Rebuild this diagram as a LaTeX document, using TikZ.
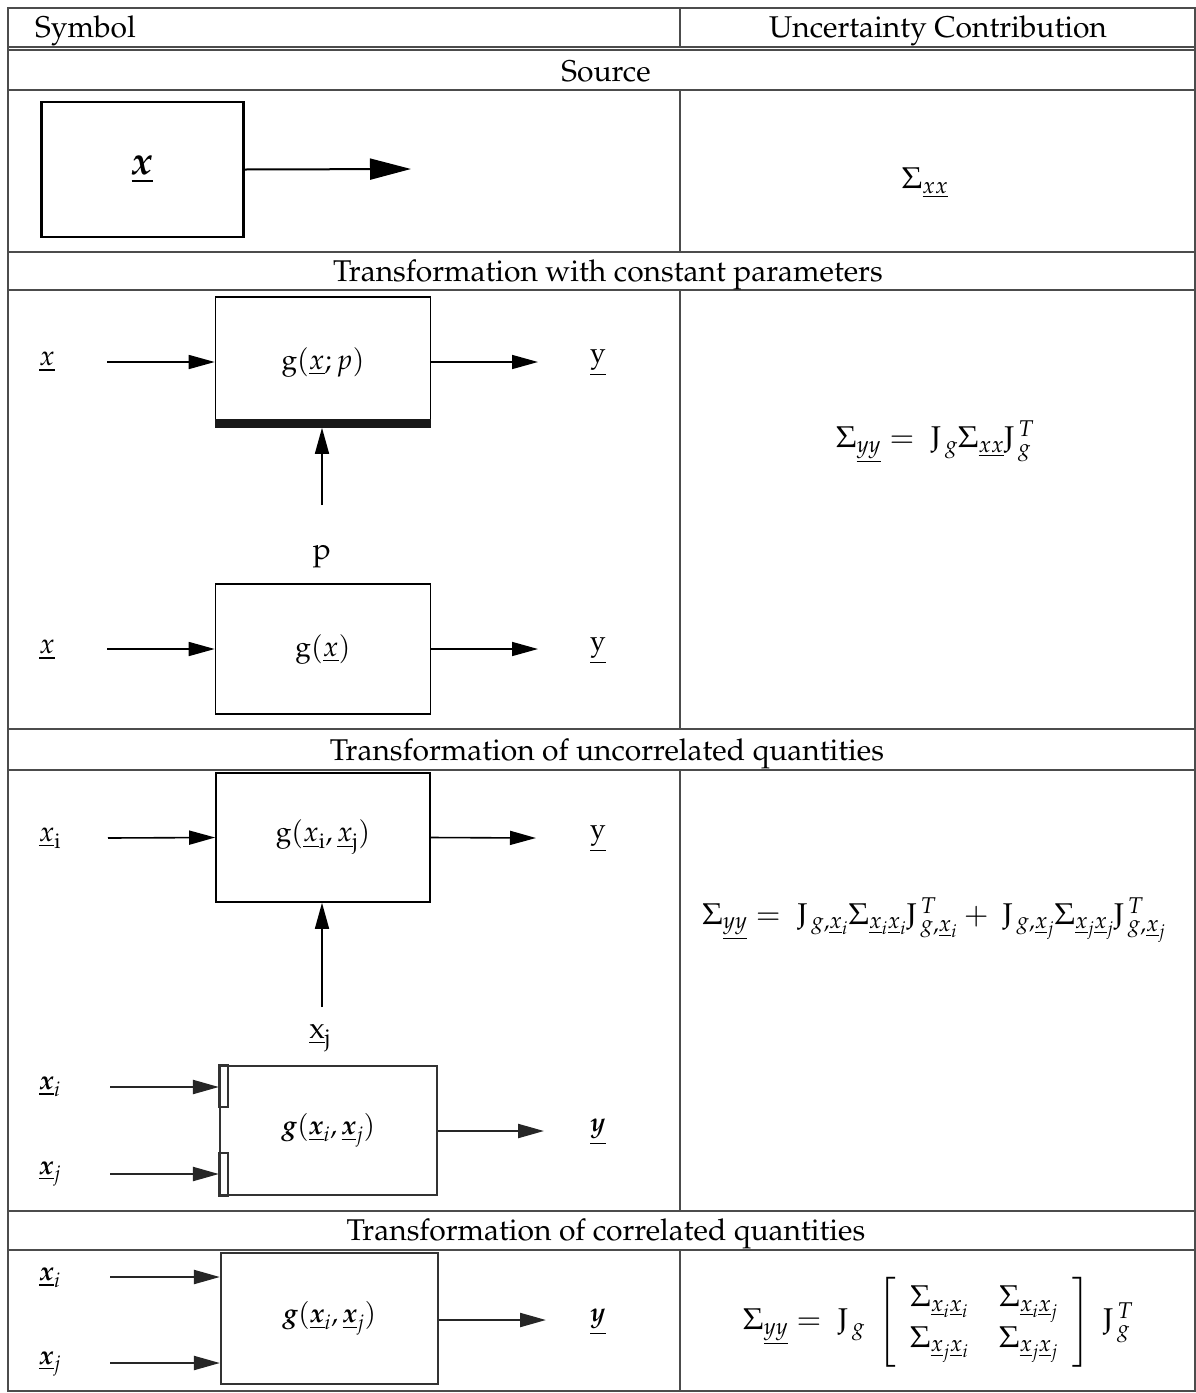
\documentclass[tikz,border=0pt]{standalone}
\usepackage{amsmath}
\usepackage{mathpazo}
\usepackage[T1]{fontenc}
\usepackage{bm}
\usetikzlibrary{arrows.meta}
\newcommand{\ttlsize}{\fontsize{30}{36}\selectfont}
\newcommand{\dlabsize}{\fontsize{28}{34}\selectfont}
\newcommand{\blabsize}{\fontsize{27}{32}\selectfont}
\newcommand{\srcsize}{\fontsize{40}{48}\selectfont}
\tikzset{
  tline/.style={draw=black!70, line width=1.4pt},
  ttl/.style={font=\ttlsize, inner sep=0pt, anchor=base},
  frm/.style={font=\ttlsize, inner sep=0pt},
  dlab/.style={font=\dlabsize, inner sep=0pt},
  blab/.style={font=\blabsize, inner sep=0pt},
  fbox/.style={draw=black, line width=1.6pt, minimum width=215pt, minimum height=130pt, inner sep=0pt, font=\dlabsize},
  gbox/.style={draw=black!80, line width=2.2pt, minimum width=217pt, inner sep=0pt, font=\blabsize},
  arr/.style={line width=1.6pt, -{Triangle[length=26pt,width=14pt]}},
  garr/.style={draw=black!85, line width=2.2pt, -{Triangle[length=26pt,width=14pt]}},
}
\begin{document}
\begin{tikzpicture}[x=1pt,y=-1pt]
\useasboundingbox (0,0) rectangle (1196,1393);
% ---------- table frame ----------
\draw[tline] (8,8) rectangle (1195,1391);
\foreach \yy in {47,50,90,252,290,729,770,1211,1250}
  \draw[tline] (8,\yy) -- (1195,\yy);
\draw[tline] (680,8) -- (680,47);
\draw[tline] (680,90) -- (680,252);
\draw[tline] (680,290) -- (680,729);
\draw[tline] (680,770) -- (680,1211);
\draw[tline] (680,1250) -- (680,1391);
% ---------- headings ----------
\node[ttl, anchor=base west] (hsym) at (35,37) {Symbol};
\node[ttl] (hunc) at (938,37) {Uncertainty Contribution};
\node[ttl] (tsrc) at (606,81) {Source};
\node[ttl] (tcon) at (608,281) {Transformation with constant parameters};
\node[ttl] (tunc) at (607,760) {Transformation of uncorrelated quantities};
\node[ttl] (tcor) at (606,1240) {Transformation of correlated quantities};
% ---------- source ----------
\node[draw=black, line width=2.6pt, minimum width=202pt, minimum height=135pt, inner sep=0pt, font=\srcsize] (src) at (142.5,169.5) {$\underline{\bm{x}}$};
\coordinate (srcend) at (411,169);
\draw[line width=2pt, -{Triangle[length=41pt,width=21pt]}] (src.east) -- (srcend);
\node[frm] (fsrc) at (925,183) {$\Sigma_{\underline{xx}}$};
% ---------- constant parameters ----------
\node[fbox] (gxp) at (323,362) {$\mathrm{g}(\underline{x}; p)$};
\fill[black!90] (gxp.south west) rectangle ([yshift=9pt]gxp.south east);
\node[dlab] (xin1) at (47,362) {$\underline{x}$};
\node[dlab] (yout1) at (598,363) {$\underline{\mathrm{y}}$};
\coordinate (a1) at (107,362);
\coordinate (b1) at (538,362);
\draw[arr] (a1) -- (gxp.west);
\draw[arr] (gxp.east) -- (b1);
\coordinate (pst) at (322,505);
\draw[arr] (pst) -- (pst |- gxp.south);
\node[font=\ttlsize, inner sep=0pt] (plab) at (322,556) {p};
\node[fbox] (gx) at (323,649) {$\mathrm{g}(\underline{x})$};
\node[dlab] (xin2) at (47,650) {$\underline{x}$};
\node[dlab] (yout2) at (598,651) {$\underline{\mathrm{y}}$};
\coordinate (a2) at (107,649);
\coordinate (b2) at (538,649);
\draw[arr] (a2) -- (gx.west);
\draw[arr] (gx.east) -- (b2);
\node[frm] (fcon) at (935,442) {$\Sigma_{\underline{yy}} = \;\mathrm{J}_{\,g}\Sigma_{\underline{xx}}\mathrm{J}_{\,g}^{\,T}$};
% ---------- uncorrelated ----------
\node[fbox, minimum width=214pt, minimum height=129pt] (gij) at (323,837.5) {$\mathrm{g}(\underline{x}_{\mathrm{i}}, \underline{x}_{\mathrm{j}})$};
\node[dlab] (xin3) at (50,838) {$\underline{x}_{\mathrm{i}}$};
\node[dlab] (yout3) at (598,839) {$\underline{\mathrm{y}}$};
\coordinate (a3) at (108,838);
\coordinate (b3) at (536,838);
\draw[arr] (a3) -- (gij.west);
\draw[arr] (gij.east) -- (b3);
\coordinate (xjst) at (322,1007);
\draw[arr] (xjst) -- (xjst |- gij.south);
\node[font=\ttlsize, inner sep=0pt] (xjlab) at (320,1038) {$\underline{\mathrm{x}}_{\mathrm{j}}$};
% lower figure
\node[gbox, minimum height=129pt] (gb) at (328.5,1130.5) {$\bm{g}(\underline{\bm{x}}_i, \underline{\bm{x}}_j)$};
\draw[draw=black!80, line width=1.8pt] (gb.north west) rectangle ++(9,42);
\draw[draw=black!80, line width=1.8pt] (gb.south west) rectangle ++(9,-43);
\node[blab] (xib) at (50,1087) {$\underline{\bm{x}}_i$};
\node[blab] (xjb) at (50,1174) {$\underline{\bm{x}}_j$};
\node[blab] (yb) at (598,1132) {$\underline{\bm{y}}$};
\coordinate (a4) at (110,1087);
\coordinate (a5) at (110,1174);
\coordinate (b4) at (544,1131);
\draw[garr] (a4) -- (a4 -| gb.west);
\draw[garr] (a5) -- (a5 -| gb.west);
\draw[garr] (b4 -| gb.east) -- (b4);
\node[frm] (func) at (934,920) {$\Sigma_{\underline{yy}} = \;\mathrm{J}_{\,g,\underline{x}_i}\Sigma_{\underline{x}_i\underline{x}_i}\mathrm{J}_{\,g,\underline{x}_i}^{\,T} + \;\mathrm{J}_{\,g,\underline{x}_j}\Sigma_{\underline{x}_j\underline{x}_j}\mathrm{J}_{\,g,\underline{x}_j}^{\,T}$};
% ---------- correlated ----------
\node[gbox, minimum height=131pt] (gc) at (329.5,1318.5) {$\bm{g}(\underline{\bm{x}}_i, \underline{\bm{x}}_j)$};
\node[blab] (xic) at (50,1278) {$\underline{\bm{x}}_i$};
\node[blab] (xjc) at (50,1364) {$\underline{\bm{x}}_j$};
\node[blab] (yc) at (598,1322) {$\underline{\bm{y}}$};
\coordinate (a6) at (110,1277);
\coordinate (a7) at (110,1363);
\coordinate (b6) at (546,1320);
\draw[garr] (a6) -- (a6 -| gc.west);
\draw[garr] (a7) -- (a7 -| gc.west);
\draw[garr] (b6 -| gc.east) -- (b6);
\node[frm] (fcor) at (938,1322) {$\Sigma_{\underline{yy}} = \;\mathrm{J}_{\,g}\;\left[\;\begin{array}{c@{\hspace{30pt}}c}\Sigma_{\underline{x}_i\underline{x}_i} & \Sigma_{\underline{x}_i\underline{x}_j}\\ \Sigma_{\underline{x}_j\underline{x}_i} & \Sigma_{\underline{x}_j\underline{x}_j}\end{array}\;\right]\;\mathrm{J}_{\,g}^{\,T}$};
\end{tikzpicture}
\end{document}
